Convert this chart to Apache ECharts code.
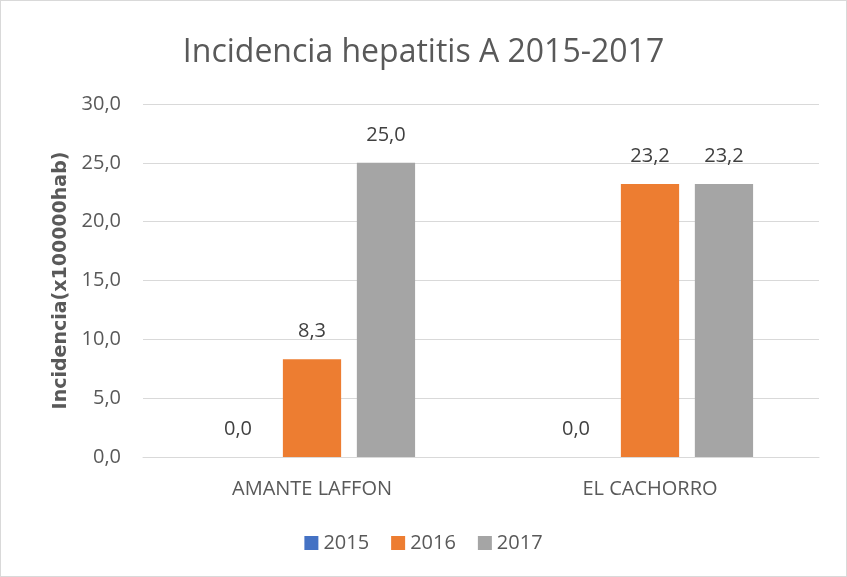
<!DOCTYPE html>
<html>
<head>
<meta charset="utf-8">
<script src="https://cdn.jsdelivr.net/npm/echarts@6/dist/echarts.min.js"></script>
<style>
  html, body { margin: 0; padding: 0; background: #fff; }
  #main { width: 845px; height: 575px; border: 1px solid #d9d9d9; }
</style>
</head>
<body>
<div id="main"></div>
<script>
var categorias = ['AMANTE LAFFON', 'EL CACHORRO'];
var anios = ['2015', '2016', '2017'];
var v2015 = [0.0, 0.0];
var v2016 = [8.3, 23.2];
var v2017 = [25.0, 23.2];
var colores = ['#4472C4', '#ED7D31', '#A5A5A5'];

var fuente = '"Open Sans", "Liberation Sans", sans-serif';

function serie(nombre, datos, color) {
    return {
        name: nombre,
        type: 'bar',
        data: datos,
        barGap: '27%',
        barCategoryGap: '39%',
        itemStyle: { color: color },
        label: {
            show: true,
            position: 'top',
            distance: 18,
            color: '#404040',
            fontSize: 20,
            fontFamily: fuente,
            formatter: function (p) {
                return p.value.toFixed(1).replace('.', ',');
            }
        }
    };
}

var myChart = echarts.init(document.getElementById('main'));
myChart.setOption({
    animation: false,
    title: {
        text: 'Incidencia hepatitis A 2015-2017',
        left: 'center',
        top: 31,
        textStyle: {
            color: '#595959',
            fontSize: 32,
            fontWeight: 'normal',
            fontFamily: fuente
        }
    },
    legend: {
        data: anios,
        bottom: 18,
        left: 'center',
        itemWidth: 14,
        itemHeight: 14,
        itemGap: 22,
        icon: 'rect',
        textStyle: { color: '#595959', fontSize: 20, fontFamily: fuente }
    },
    grid: {
        left: 142,
        right: 27,
        top: 103,
        bottom: 119,
        containLabel: false
    },
    xAxis: {
        type: 'category',
        data: categorias,
        axisLine: { lineStyle: { color: '#d9d9d9' } },
        axisTick: { show: false },
        axisLabel: {
            color: '#595959',
            fontSize: 20,
            fontFamily: fuente,
            margin: 22
        }
    },
    yAxis: {
        type: 'value',
        min: 0,
        max: 30,
        interval: 5,
        name: 'Incidencia(x100000hab)',
        nameLocation: 'middle',
        nameGap: 72,
        nameTextStyle: {
            color: '#595959',
            fontSize: 19,
            fontWeight: 'bold',
            fontFamily: '"DejaVu Sans", sans-serif'
        },
        axisLine: { show: false },
        axisTick: { show: false },
        splitLine: { lineStyle: { color: '#d9d9d9' } },
        axisLabel: {
            color: '#595959',
            fontSize: 20,
            fontFamily: fuente,
            margin: 22,
            formatter: function (v) {
                return v.toFixed(1).replace('.', ',');
            }
        }
    },
    series: [
        serie(anios[0], v2015, colores[0]),
        serie(anios[1], v2016, colores[1]),
        serie(anios[2], v2017, colores[2])
    ]
});
</script>
</body>
</html>
